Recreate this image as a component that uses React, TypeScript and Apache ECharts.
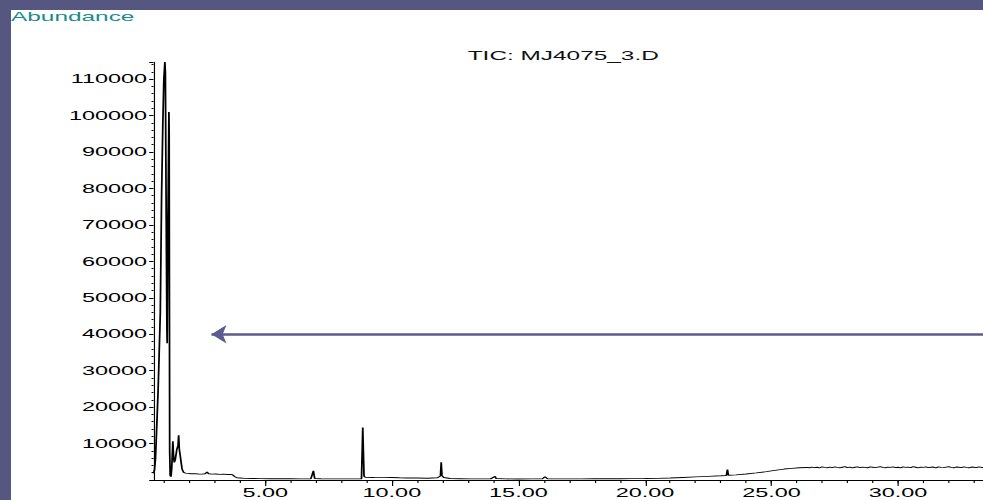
import React, { useEffect, useRef } from "react";
import * as echarts from "echarts";

// ---- data ----
const chartTitle = "TIC: MJ4075_3.D";
const yAxisTitle = "Abundance";

const retentionTimes = [
  0.58, 0.62, 0.66, 0.7, 0.76, 0.79, 0.85, 0.9, 0.95, 0.99, 1.03, 1.05, 1.08, 1.11, 1.12,
  1.15, 1.19, 1.2, 1.21, 1.22, 1.24, 1.27, 1.3, 1.345, 1.37, 1.4, 1.44, 1.5, 1.55, 1.575,
  1.6, 1.64, 1.68, 1.71, 1.77, 1.85, 1.95, 2.05, 2.2, 2.35, 2.5, 2.62, 2.7, 2.76, 2.9,
  3.05, 3.2, 3.35, 3.5, 3.62, 3.7, 3.8, 3.88, 4.0, 4.2, 4.5, 4.8, 5.2, 5.6, 6.0, 6.4, 6.8,
  6.9, 6.95, 7.2, 7.6, 8.0, 8.4, 8.8, 8.85, 8.9, 8.95, 9.3, 9.7, 10.0, 10.3, 10.6, 11.0,
  11.4, 11.8, 11.92, 11.95, 11.98, 12.05, 12.3, 12.7, 13.1, 13.5, 13.9, 14.08, 14.12, 14.5,
  15.0, 15.5, 15.95, 16.05, 16.15, 16.6, 17.0, 17.5, 18.0, 18.5, 19.0, 19.5, 20.0, 20.5,
  21.0, 21.5, 22.0, 22.5, 23.0, 23.22, 23.26, 23.3, 23.6, 24.0, 24.4, 24.8, 25.2, 25.5,
  25.8, 26.1, 26.4, 26.5, 26.6, 26.7, 26.8, 26.9, 27.0, 27.1, 27.2, 27.3, 27.4, 27.5, 27.6,
  27.7, 27.8, 27.9, 28.0, 28.1, 28.2, 28.3, 28.4, 28.5, 28.6, 28.7, 28.8, 28.9, 29.0, 29.1,
  29.2, 29.3, 29.4, 29.5, 29.6, 29.7, 29.8, 29.9, 30.0, 30.1, 30.2, 30.3, 30.4, 30.5, 30.6,
  30.7, 30.8, 30.9, 31.0, 31.1, 31.2, 31.3, 31.4, 31.5, 31.6, 31.7, 31.8, 31.9, 32.0, 32.1,
  32.2, 32.3, 32.4, 32.5, 32.6, 32.7, 32.8, 32.9, 33.0, 33.1, 33.2, 33.3, 33.36,
];

const abundance = [
  1800, 2700, 6000, 13000, 24000, 31000, 46000, 78000, 98000, 110000, 114700, 112000, 75000, 42000, 37500,
  70000, 101000, 95000, 50000, 8000, 1200, 900, 3000, 10600, 7000, 4800, 5500, 8300, 9500, 12300,
  8500, 6500, 4500, 3000, 2100, 1900, 1800, 1700, 1750, 1650, 1600, 1700, 2200, 1700, 1600,
  1650, 1550, 1600, 1500, 1550, 1450, 900, 600, 550, 450, 400, 380, 350, 330, 340, 320, 350,
  2500, 400, 330, 320, 300, 320, 300, 14400, 1000, 750, 700, 650, 700, 600, 550, 550,
  500, 600, 1100, 4900, 1200, 700, 400, 350, 300, 320, 300, 1000, 400, 300,
  280, 300, 320, 900, 350, 300, 320, 300, 330, 340, 350, 380, 400, 450,
  550, 700, 850, 1000, 1150, 1250, 2900, 1300, 1400, 1650, 1950, 2300, 2700, 3000,
  3200, 3350, 3450, 3350, 3550, 3400, 3500, 3300, 3600, 3450, 3350, 3550, 3400, 3600, 3450,
  3350, 3500, 3650, 3400, 3550, 3350, 3500, 3600, 3400, 3550, 3450, 3350, 3600, 3500, 3400,
  3550, 3650, 3450, 3350, 3550, 3450, 3600, 3400, 3500, 3350, 3600, 3450, 3550, 3400, 3650,
  3500, 3350, 3550, 3450, 3600, 3400, 3500, 3550, 3350, 3600, 3450, 3400, 3550, 3650, 3450,
  3350, 3550, 3500, 3400, 3600, 3450, 3350, 3550, 3500, 3400, 3600, 3450, 3450,
];

const xRange = [0.58, 33.36];
const yRange = [0, 114700];
const yInterval = 10000;
const xLabelValues = [5, 10, 15, 20, 25, 30];
const xMinorTickValues = [
  1, 2, 3, 4, 5, 6, 7, 8, 9, 10, 11, 12, 13, 14, 15, 16, 17, 18, 19, 20, 21, 22, 23, 24, 25,
  26, 27, 28, 29, 30, 31, 32, 33,
];
const arrowFrom = [33.36, 40000];
const arrowTo = [2.87, 40000];

// The reference's texts are stretched horizontally; the chart is drawn narrow and stretched.
const PANEL_W = 972;
const LOGICAL_W = 498;
const STRETCH = PANEL_W / LOGICAL_W;
const FONT = "'Liberation Sans', Arial, Helvetica, sans-serif";

export default function App() {
  const ref = useRef<HTMLDivElement>(null);

  useEffect(() => {
    if (!ref.current) return;
    const chart = echarts.init(ref.current, null, { renderer: "svg" });
    const seriesData = retentionTimes.map((t, i) => [t, abundance[i]]);

    chart.setOption({
      animation: false,
      backgroundColor: "#ffffff",
      title: [
        {
          text: yAxisTitle,
          left: 0,
          top: 0,
          padding: 0,
          textStyle: { color: "#1a8c8c", fontSize: 12.5, fontWeight: "normal", fontFamily: FONT },
        },
        {
          text: chartTitle,
          left: 234,
          top: 39,
          padding: 0,
          textStyle: { color: "#111111", fontSize: 12.5, fontWeight: "normal", fontFamily: FONT },
        },
      ],
      grid: { left: 73, right: 0, top: 52, bottom: 20, outerBoundsMode: "none" },
      xAxis: [
        {
          type: "value",
          min: xRange[0],
          max: xRange[1],
          position: "bottom",
          splitLine: { show: false },
          axisLine: { show: true, lineStyle: { color: "#000", width: 1 } },
          axisTick: {
            show: true,
            customValues: xLabelValues,
            length: 6,
            lineStyle: { color: "#000", width: 0.6 },
          },
          axisLabel: {
            customValues: xLabelValues,
            formatter: (v: number) => v.toFixed(2),
            color: "#000",
            fontSize: 12,
            fontFamily: FONT,
            margin: 7,
          },
        },
        {
          type: "value",
          min: xRange[0],
          max: xRange[1],
          position: "bottom",
          splitLine: { show: false },
          axisLine: { show: false },
          axisTick: {
            show: true,
            customValues: xMinorTickValues,
            length: 3,
            lineStyle: { color: "#000", width: 0.6 },
          },
          axisLabel: { show: false },
        },
      ],
      yAxis: {
        type: "value",
        min: yRange[0],
        max: yRange[1],
        interval: yInterval,
        splitLine: { show: false },
        axisLine: { show: true, lineStyle: { color: "#000", width: 0.6 } },
        axisTick: { show: true, length: 2.2, lineStyle: { color: "#000", width: 1 } },
        minorTick: { show: true, splitNumber: 5, length: 1, lineStyle: { color: "#000", width: 1 } },
        axisLabel: {
          showMinLabel: false,
          showMaxLabel: false,
          formatter: (v: number) => String(v),
          color: "#000",
          fontSize: 12,
          fontFamily: FONT,
          margin: 3.3,
        },
      },
      series: [
        {
          type: "line",
          data: seriesData,
          showSymbol: false,
          symbol: "none",
          lineStyle: { color: "#000", width: 0.9 },
          silent: true,
          markLine: {
            silent: true,
            symbol: ["none", "arrow"],
            symbolSize: [14, 7.7],
            label: { show: false },
            lineStyle: { color: "#5b5b8e", width: 2.5, type: "solid" },
            data: [[{ coord: arrowFrom }, { coord: arrowTo }]],
          },
        },
      ],
    });

    return () => chart.dispose();
  }, []);

  return (
    <div
      style={{
        position: "fixed",
        left: 0,
        top: 0,
        width: 983,
        height: 500,
        background: "#565780",
        overflow: "hidden",
      }}
    >
      <div
        style={{
          position: "absolute",
          left: 11,
          top: 10,
          width: PANEL_W,
          height: 490,
          background: "#ffffff",
          overflow: "hidden",
        }}
      >
        <div
          ref={ref}
          style={{
            width: LOGICAL_W,
            height: 490,
            transform: `scaleX(${STRETCH})`,
            transformOrigin: "0 0",
          }}
        />
      </div>
    </div>
  );
}
